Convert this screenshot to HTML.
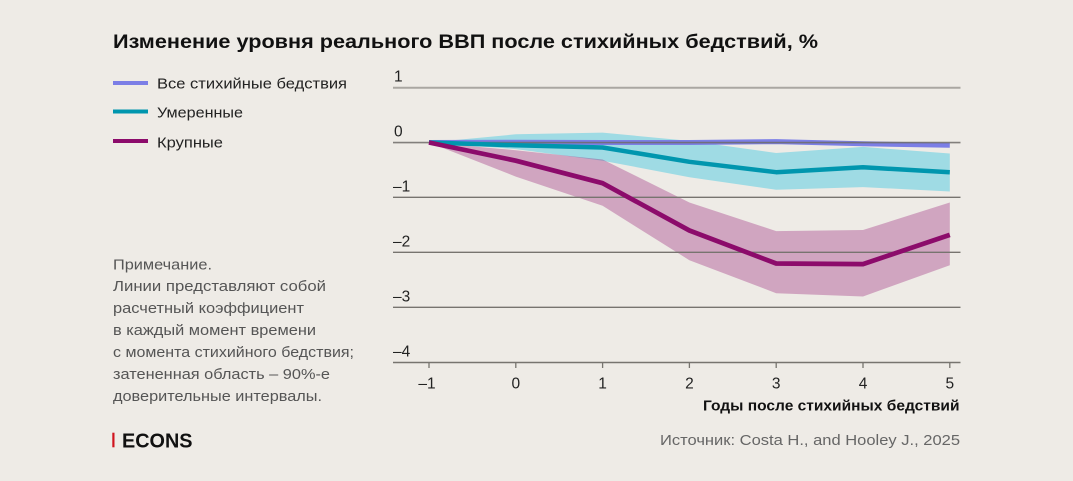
<!DOCTYPE html>
<html><head><meta charset="utf-8"><style>
html,body{margin:0;padding:0;background:#eeebe6;}
svg{display:block;}
text{font-family:"Liberation Sans",sans-serif;}
</style></head><body>
<svg width="1073" height="481" viewBox="0 0 1073 481" xmlns="http://www.w3.org/2000/svg">
<rect width="1073" height="481" fill="#eeebe6"/>
<text x="113" y="48" font-size="19.5" font-weight="bold" fill="#111" textLength="705" lengthAdjust="spacingAndGlyphs">Изменение уровня реального ВВП после стихийных бедствий, %</text>

<line x1="113" y1="83" x2="148" y2="83" stroke="#7b7ee6" stroke-width="4"/>
<line x1="113" y1="111.5" x2="148" y2="111.5" stroke="#0096ae" stroke-width="4"/>
<line x1="113" y1="141" x2="148" y2="141" stroke="#8c0b6b" stroke-width="4"/>
<text x="157" y="88.5" font-size="15" fill="#222" textLength="190" lengthAdjust="spacingAndGlyphs">Все стихийные бедствия</text>
<text x="157" y="117.5" font-size="15" fill="#222" textLength="86" lengthAdjust="spacingAndGlyphs">Умеренные</text>
<text x="157" y="147.5" font-size="15" fill="#222" textLength="66" lengthAdjust="spacingAndGlyphs">Крупные</text>

<g font-size="15" fill="#555">
<text x="113" y="269.5" textLength="99" lengthAdjust="spacingAndGlyphs">Примечание.</text>
<text x="113" y="291" textLength="213" lengthAdjust="spacingAndGlyphs">Линии представляют собой</text>
<text x="113" y="313" textLength="191" lengthAdjust="spacingAndGlyphs">расчетный коэффициент</text>
<text x="113" y="335" textLength="203" lengthAdjust="spacingAndGlyphs">в каждый момент времени</text>
<text x="113" y="357" textLength="241" lengthAdjust="spacingAndGlyphs">с момента стихийного бедствия;</text>
<text x="113" y="379" textLength="217" lengthAdjust="spacingAndGlyphs">затененная область – 90%-е</text>
<text x="113" y="401" textLength="209" lengthAdjust="spacingAndGlyphs">доверительные интервалы.</text>
</g>

<rect x="112.3" y="432.7" width="2.2" height="14.6" fill="#d0141e"/>
<text x="122" y="447.3" font-size="20" font-weight="bold" fill="#111" textLength="70.5" lengthAdjust="spacingAndGlyphs">ECONS</text>

<!-- bands -->
<polygon fill="#9fdbe4" points="429,142.5 515.8,134.3 602.6,132.6 689.4,140.9 776.2,153 863,146.9 949.8,153.5 949.8,191.5 863,187.1 776.2,189.8 689.4,177.2 602.6,160.7 515.8,149.1 429,142.5"/>
<polygon fill="#8e0b6b" fill-opacity="0.31" points="429,142.5 515.8,150.2 602.6,159.5 689.4,202.5 776.2,231.1 863,230 949.8,202.5 949.8,265.2 863,296.5 776.2,293.2 689.4,260.2 602.6,205.8 515.8,176.6 429,142.5"/>

<!-- blue line -->
<polyline fill="none" stroke="#7b7ee6" stroke-width="5" stroke-linejoin="round" points="429,142.5 515.8,142.2 602.6,142.5 689.4,142.5 776.2,141.6 863,143.8 949.8,145.3"/>

<!-- gridlines -->
<line x1="393" y1="87.7" x2="960.5" y2="87.7" stroke="#aaa7a2" stroke-width="2"/>
<line x1="393" y1="142.6" x2="960.5" y2="142.6" stroke="#6e6c69" stroke-width="1.6" stroke-opacity="0.85"/>
<line x1="393" y1="197.3" x2="960.5" y2="197.3" stroke="#77746f" stroke-width="1.4"/>
<line x1="393" y1="252.3" x2="960.5" y2="252.3" stroke="#77746f" stroke-width="1.4"/>
<line x1="393" y1="307.3" x2="960.5" y2="307.3" stroke="#77746f" stroke-width="1.4"/>
<line x1="393" y1="362.5" x2="960.5" y2="362.5" stroke="#77746f" stroke-width="1.4"/>
<g stroke="#77746f" stroke-width="1.3">
<line x1="429" y1="362.5" x2="429" y2="368"/>
<line x1="515.8" y1="362.5" x2="515.8" y2="368"/>
<line x1="602.6" y1="362.5" x2="602.6" y2="368"/>
<line x1="689.4" y1="362.5" x2="689.4" y2="368"/>
<line x1="776.2" y1="362.5" x2="776.2" y2="368"/>
<line x1="863" y1="362.5" x2="863" y2="368"/>
<line x1="949.8" y1="362.5" x2="949.8" y2="368"/>
</g>

<!-- series lines -->
<polyline fill="none" stroke="#0096ae" stroke-width="4.5" stroke-linejoin="round" points="429,142.5 515.8,145.3 602.6,147.5 689.4,161.8 776.2,172.2 863,167.3 949.8,172.2"/>
<polyline fill="none" stroke="#8c0b6b" stroke-width="4.7" stroke-linejoin="round" points="429,142.5 515.8,160.7 602.6,183.2 689.4,230.5 776.2,263.5 863,264.1 949.8,234.9"/>

<!-- y labels -->
<g font-size="15.5" fill="#222">
<text x="394" y="81.7">1</text>
<text x="394" y="136.7">0</text>
<text x="393" y="191.7">–1</text>
<text x="393" y="246.7">–2</text>
<text x="393" y="301.7">–3</text>
<text x="393" y="356.5">–4</text>
</g>
<g font-size="15.5" fill="#222" text-anchor="middle">
<text x="427" y="388.5">–1</text>
<text x="515.8" y="388.5">0</text>
<text x="602.6" y="388.5">1</text>
<text x="689.4" y="388.5">2</text>
<text x="776.2" y="388.5">3</text>
<text x="863" y="388.5">4</text>
<text x="949.8" y="388.5">5</text>
</g>
<text x="703" y="410.7" font-size="14.5" font-weight="bold" fill="#111" textLength="256.5" lengthAdjust="spacingAndGlyphs">Годы после стихийных бедствий</text>
<text x="660" y="445" font-size="15" fill="#666" textLength="300" lengthAdjust="spacingAndGlyphs">Источник: Costa H., and Hooley J., 2025</text>
</svg>
</body></html>
